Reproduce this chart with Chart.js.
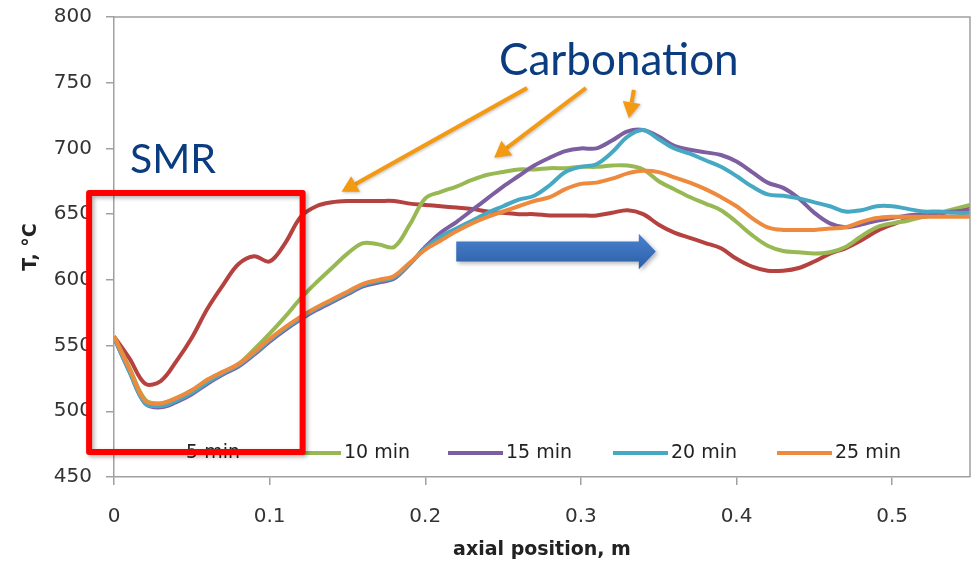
<!DOCTYPE html>
<html>
<head>
<meta charset="utf-8">
<script src="https://cdn.jsdelivr.net/npm/chart.js@4.4.1/dist/chart.umd.min.js"></script>
<style>
  html, body { margin: 0; padding: 0; background: #fff; }
  #wrap { width: 980px; height: 566px; }
</style>
</head>
<body>
<div id="wrap"><canvas id="tempChart" width="980" height="566"></canvas></div>
<script>
// axial position, m
const positions = [0, 0.01, 0.02, 0.03, 0.04, 0.05, 0.06, 0.07, 0.08, 0.09,
  0.10, 0.11, 0.12, 0.13, 0.14, 0.15, 0.16, 0.17, 0.18, 0.19,
  0.20, 0.21, 0.22, 0.23, 0.24, 0.25, 0.26, 0.27, 0.28, 0.29,
  0.30, 0.31, 0.32, 0.33, 0.34, 0.35, 0.36, 0.37, 0.38, 0.39,
  0.40, 0.41, 0.42, 0.43, 0.44, 0.45, 0.46, 0.47, 0.48, 0.49,
  0.50, 0.51, 0.52, 0.53, 0.54, 0.55];

const labels = ['5 min', '10 min', '15 min', '20 min', '25 min'];
const colors = ['#B5423F', '#97B853', '#7D5FA1', '#45A9C4', '#EE8A3E'];

const t5 = [557, 540, 521, 523, 538, 556, 578, 596, 612, 618,
  614, 628, 648, 656, 659, 660, 660, 660, 660, 658,
  657, 656, 655, 654, 652, 651, 650, 650, 649, 649,
  649, 649, 651, 653, 650, 642, 636, 632, 628, 624,
  616, 610, 607, 607, 609, 614, 620, 624, 630, 637,
  642, 646, 648, 650, 653, 656];
const t10 = [557, 533, 509, 506, 510, 516, 524, 530, 536, 547,
  559, 572, 586, 598, 609, 620, 628, 627, 625, 642,
  662, 667, 671, 676, 680, 682, 684, 684, 685, 685,
  686, 686, 687, 687, 684, 675, 669, 663, 658, 653,
  644, 634, 626, 622, 621, 620, 621, 625, 633, 640,
  643, 645, 648, 651, 654, 657];
const t15 = [556, 530, 506, 503, 507, 513, 521, 528, 534, 543,
  553, 562, 570, 577, 583, 589, 595, 598, 601, 612,
  625, 636, 644, 653, 662, 671, 679, 687, 693, 698,
  700, 700, 706, 713, 714, 709, 702, 699, 697, 695,
  690, 682, 674, 670, 662, 651, 643, 640, 642, 645,
  647, 649, 650, 651, 652, 653];
const t20 = [556, 530, 506, 504, 508, 514, 522, 529, 535, 544,
  554, 563, 571, 578, 584, 590, 596, 599, 602, 612,
  624, 633, 639, 645, 651, 656, 661, 664, 672, 682,
  686, 688, 697, 709, 714, 707, 700, 696, 691, 686,
  679, 671, 665, 664, 662, 659, 656, 652, 653, 656,
  656, 654, 652, 652, 651, 651];
const t25 = [557, 532, 508, 506, 510, 516, 524, 530, 536, 545,
  555, 564, 572, 579, 585, 591, 597, 600, 603, 613,
  623, 630, 637, 643, 648, 652, 656, 660, 663, 669,
  673, 674, 677, 681, 683, 682, 678, 674, 669, 663,
  656, 647, 640, 638, 638, 638, 639, 640, 644, 647,
  648, 648, 648, 648, 648, 648];

const yTicks = [450, 500, 550, 600, 650, 700, 750, 800];
const xTicks = [0, 0.1, 0.2, 0.3, 0.4, 0.5];

const series = [t5, t10, t15, t20, t25];

// annotation anchors, in axis units
const smrBox = { x1: -0.016, x2: 0.1212, y1: 666, y2: 469 };
const orangeArrows = [
  { from: [0.2654, 746], to: [0.1462, 667] },
  { from: [0.3032, 746], to: [0.2442, 693] },
  { from: [0.334, 744.5], to: [0.3308, 723] }
];
const blueArrow = { x1: 0.2199, x2: 0.3372, tip: 0.3481, y: 621.5, shaft: 7.6, head: 13.5 };

// legend item starts (px), legend sits inside the plot like the original
const legendX = [128, 286, 448, 613, 777];
const legendY = 453;

const font = "'DejaVu Sans', Verdana, sans-serif";
const noteFont = "Lato, 'Open Sans', sans-serif";

function drawArrow(ctx, x1, y1, x2, y2) {
  const ang = Math.atan2(y2 - y1, x2 - x1);
  const hl = 16, hw = 9;
  const bx = x2 - hl * Math.cos(ang), by = y2 - hl * Math.sin(ang);
  ctx.beginPath();
  ctx.moveTo(x1, y1);
  ctx.lineTo(bx, by);
  ctx.stroke();
  ctx.beginPath();
  ctx.moveTo(x2, y2);
  ctx.lineTo(bx + hw * Math.sin(ang), by - hw * Math.cos(ang));
  ctx.lineTo(bx - hw * Math.sin(ang), by + hw * Math.cos(ang));
  ctx.closePath();
  ctx.fill();
}

const decor = {
  id: 'decor',
  afterDatasetsDraw(chart) {
    const { ctx, chartArea: a, scales: { x, y } } = chart;
    ctx.save();

    // plot frame (top, right)
    ctx.strokeStyle = '#a0a0a0';
    ctx.lineWidth = 1.5;
    ctx.beginPath();
    ctx.moveTo(a.left, a.top);
    ctx.lineTo(a.right, a.top);
    ctx.lineTo(a.right, a.bottom);
    ctx.stroke();

    // legend inside plot area
    ctx.font = '19px ' + font;
    ctx.textBaseline = 'middle';
    chart.data.datasets.forEach((ds, i) => {
      const lx = legendX[i];
      ctx.strokeStyle = ds.borderColor;
      ctx.lineWidth = 4;
      ctx.beginPath();
      ctx.moveTo(lx, legendY);
      ctx.lineTo(lx + 55, legendY);
      ctx.stroke();
      ctx.fillStyle = '#222';
      ctx.fillText(ds.label, lx + 58, legendY);
    });

    // blue block arrow
    const bx1 = x.getPixelForValue(blueArrow.x1), bx2 = x.getPixelForValue(blueArrow.x2);
    const btip = x.getPixelForValue(blueArrow.tip);
    const by = y.getPixelForValue(blueArrow.y);
    const sh = y.getPixelForValue(blueArrow.y - blueArrow.shaft) - by;
    const hd = y.getPixelForValue(blueArrow.y - blueArrow.head) - by;
    const g = ctx.createLinearGradient(0, by - hd, 0, by + hd);
    g.addColorStop(0, '#4A82CF');
    g.addColorStop(1, '#2C5EA6');
    ctx.shadowColor = 'rgba(0,0,0,0.3)';
    ctx.shadowBlur = 4;
    ctx.shadowOffsetX = 2;
    ctx.shadowOffsetY = 2;
    ctx.fillStyle = g;
    ctx.beginPath();
    ctx.moveTo(bx1, by - sh);
    ctx.lineTo(bx2, by - sh);
    ctx.lineTo(bx2, by - hd);
    ctx.lineTo(btip, by);
    ctx.lineTo(bx2, by + hd);
    ctx.lineTo(bx2, by + sh);
    ctx.lineTo(bx1, by + sh);
    ctx.closePath();
    ctx.fill();

    // orange arrows
    ctx.shadowBlur = 3;
    ctx.shadowOffsetX = 1;
    ctx.shadowOffsetY = 1;
    ctx.shadowColor = 'rgba(0,0,0,0.25)';
    ctx.strokeStyle = '#F39A12';
    ctx.fillStyle = '#F39A12';
    ctx.lineWidth = 4;
    orangeArrows.forEach(ar => {
      drawArrow(ctx,
        x.getPixelForValue(ar.from[0]), y.getPixelForValue(ar.from[1]),
        x.getPixelForValue(ar.to[0]), y.getPixelForValue(ar.to[1]));
    });

    // red SMR box
    ctx.shadowColor = 'rgba(0,0,0,0.3)';
    ctx.shadowBlur = 4;
    ctx.shadowOffsetX = 2;
    ctx.shadowOffsetY = 2;
    ctx.strokeStyle = '#FF0000';
    ctx.lineWidth = 6;
    ctx.lineJoin = 'round';
    const rx1 = x.getPixelForValue(smrBox.x1), rx2 = x.getPixelForValue(smrBox.x2);
    const ry1 = y.getPixelForValue(smrBox.y1), ry2 = y.getPixelForValue(smrBox.y2);
    ctx.strokeRect(rx1, ry1, rx2 - rx1, ry2 - ry1);

    // labels
    ctx.shadowColor = 'transparent';
    ctx.fillStyle = '#0B3C80';
    ctx.textBaseline = 'alphabetic';
    ctx.font = '41px ' + noteFont;
    ctx.fillText('SMR', x.getPixelForValue(0.0103), y.getPixelForValue(681.4));
    ctx.font = '44px ' + noteFont;
    ctx.fillText('Carbonation', x.getPixelForValue(0.2474), y.getPixelForValue(755.8));

    ctx.restore();
  }
};

const ctx = document.getElementById('tempChart');

const chart = new Chart(ctx, {
  type: 'line',
  data: {
    datasets: series.map((vals, i) => ({
      label: labels[i],
      data: positions.map((p, k) => ({ x: p, y: vals[k] })),
      borderColor: colors[i],
      backgroundColor: colors[i],
      borderWidth: 4,
      pointRadius: 0,
      tension: 0.35,
      fill: false,
      order: series.length - i
    }))
  },
  options: {
    responsive: false,
    animation: false,
    layout: { padding: { top: 17, right: 10, left: 20, bottom: 0 } },
    plugins: {
      legend: { display: false },
      tooltip: { enabled: false }
    },
    scales: {
      x: {
        type: 'linear',
        min: 0,
        max: 0.55,
        afterBuildTicks: s => { s.ticks = xTicks.map(v => ({ value: v })); },
        afterFit: s => { s.height = 89; s.paddingLeft = 0; s.paddingRight = 0; },
        ticks: {
          font: { family: font, size: 20 },
          color: '#333',
          padding: 20,
          maxRotation: 0,
          callback: v => String(v)
        },
        grid: { drawOnChartArea: false, tickLength: 8, color: '#a0a0a0', lineWidth: 1.5 },
        border: { color: '#a0a0a0', width: 1.5 },
        title: {
          display: true,
          text: 'axial position, m',
          font: { family: font, size: 19, weight: 'bold' },
          color: '#222',
          padding: { top: 6, bottom: 5 }
        }
      },
      y: {
        min: 450,
        max: 800,
        afterBuildTicks: s => { s.ticks = yTicks.map(v => ({ value: v })); },
        afterFit: s => { s.width = 94; s.paddingTop = 0; s.paddingBottom = 0; },
        ticks: {
          font: { family: font, size: 20 },
          color: '#333',
          padding: 14
        },
        grid: { drawOnChartArea: false, tickLength: 8, color: '#a0a0a0', lineWidth: 1.5 },
        border: { color: '#a0a0a0', width: 1.5 },
        title: {
          display: true,
          text: 'T, °C',
          font: { family: font, size: 19, weight: 'bold' },
          color: '#222',
          padding: { top: 0, bottom: 4 }
        }
      }
    }
  },
  plugins: [decor]
});
</script>
</body>
</html>
